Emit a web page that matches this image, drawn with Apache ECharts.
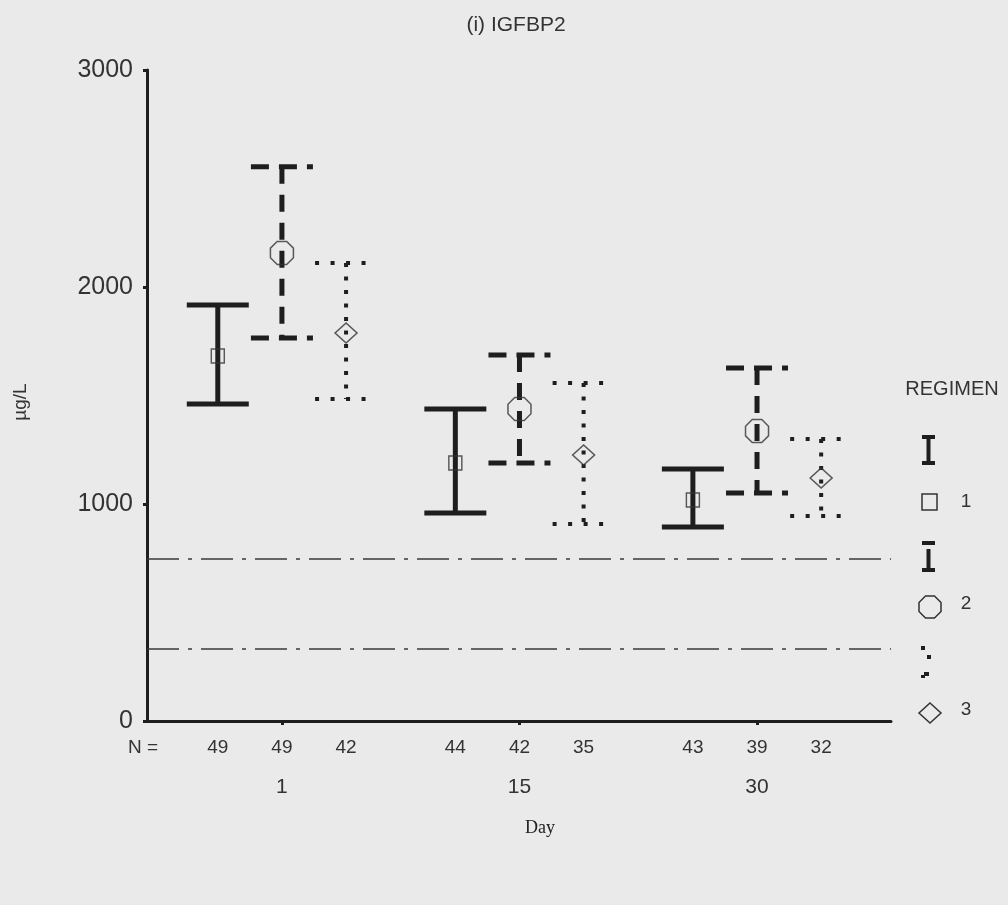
<!DOCTYPE html>
<html>
<head>
<meta charset="utf-8">
<script src="https://cdn.jsdelivr.net/npm/echarts@6/dist/echarts.min.js"></script>
<style>
  html, body { margin: 0; padding: 0; background: #eaeaea; }
  #chart { width: 1008px; height: 905px; }
</style>
</head>
<body>
<div id="chart"></div>
<script>
// IGFBP2 by day and regimen: mean with error bars (µg/L)
const days = ['1', '15', '30'];
const regimens = ['1', '2', '3'];

const nReg1 = [49, 44, 43];
const nReg2 = [49, 42, 39];
const nReg3 = [42, 35, 32];

const meanReg1 = [1682, 1189, 1018];
const lowReg1  = [1461,  958,  894];
const highReg1 = [1917, 1438, 1161];

const meanReg2 = [2157, 1438, 1336];
const lowReg2  = [1765, 1189, 1051];
const highReg2 = [2554, 1687, 1627];

const meanReg3 = [1788, 1226, 1120];
const lowReg3  = [1484,  908,  945];
const highReg3 = [2111, 1558, 1299];

const refLines = [746, 332];
const yTicks = [0, 1000, 2000, 3000];

// horizontal placement of each regimen within a day group
const groupOffset = [-0.27, 0, 0.27];
const INK = '#1e1e1e';

const regs = [
  { mean: meanReg1, low: lowReg1, high: highReg1, n: nReg1 },
  { mean: meanReg2, low: lowReg2, high: highReg2, n: nReg2 },
  { mean: meanReg3, low: lowReg3, high: highReg3, n: nReg3 }
];

// bar styles: solid, dashed, dotted
const barStyles = [
  { w: 5, capW: 5, dash: null, capDash: null },
  { w: 5, capW: 5, dash: [17, 11], capDash: [18, 10] },
  { w: 4, capW: 4, dash: [4, 9.5], capDash: [4, 11.5] }
];

const octagon = 'path://M-0.414,-1 L0.414,-1 L1,-0.414 L1,0.414 L0.414,1 L-0.414,1 L-1,0.414 L-1,-0.414 Z';
const symbols = [
  { symbol: 'rect', size: [13, 14] },
  { symbol: octagon, size: [23, 23] },
  { symbol: 'diamond', size: [22, 20] }
];

function errorBarRenderer(st) {
  return function (params, api) {
    const x = api.value(0);
    const top = api.coord([x, api.value(2)]);
    const bot = api.coord([x, api.value(1)]);
    const hw = 31;
    const base = { stroke: INK, fill: null, lineCap: 'butt' };
    return {
      type: 'group',
      children: [
        { type: 'line', shape: { x1: top[0] - hw, y1: top[1], x2: top[0] + hw, y2: top[1] },
          style: Object.assign({}, base, { lineWidth: st.capW, lineDash: st.capDash }) },
        { type: 'line', shape: { x1: top[0], y1: top[1], x2: bot[0], y2: bot[1] },
          style: Object.assign({}, base, { lineWidth: st.w, lineDash: st.dash }) },
        { type: 'line', shape: { x1: bot[0] - hw, y1: bot[1], x2: bot[0] + hw, y2: bot[1] },
          style: Object.assign({}, base, { lineWidth: st.capW, lineDash: st.capDash }) }
      ]
    };
  };
}

const series = [];
regs.forEach((r, k) => {
  series.push({
    type: 'custom',
    name: 'Regimen ' + regimens[k],
    renderItem: errorBarRenderer(barStyles[k]),
    data: days.map((d, i) => [i + groupOffset[k], r.low[i], r.high[i]]),
    encode: { x: 0, y: [1, 2] },
    z: 2,
    silent: true
  });
  series.push({
    type: 'scatter',
    symbol: symbols[k].symbol,
    symbolSize: symbols[k].size,
    data: days.map((d, i) => [i + groupOffset[k], r.mean[i]]),
    itemStyle: { color: 'transparent', borderColor: '#333', borderWidth: 1.5 },
    z: 3,
    silent: true
  });
});

// reference limits
series.push({
  type: 'line',
  data: [],
  markLine: {
    silent: true,
    symbol: ['none', 'none'],
    label: { show: false },
    lineStyle: { color: '#3a3a3a', width: 1.5, type: [32, 9, 4, 9] },
    data: refLines.map(v => ({ yAxis: v }))
  }
});

// positions of the individual N labels
const nPositions = [];
const nLabels = [];
days.forEach((d, i) => {
  regs.forEach((r, k) => {
    nPositions.push(i + groupOffset[k]);
    nLabels.push(String(r.n[i]));
  });
});

const X_MIN = -0.568, X_MAX = 2.564;
const sans = 'Liberation Sans, Arial, sans-serif';

const option = {
  backgroundColor: '#eaeaea',
  animation: false,
  grid: { left: 147, right: 117, top: 70, bottom: 184 },
  xAxis: [
    {
      type: 'value', min: X_MIN, max: X_MAX, position: 'bottom',
      splitLine: { show: false },
      axisLine: { show: true, onZero: false, lineStyle: { color: INK, width: 3 } },
      axisTick: { show: true, customValues: [0, 1, 2], length: 4, lineStyle: { color: INK, width: 3 } },
      axisLabel: {
        customValues: [0, 1, 2],
        formatter: (v) => days[Math.round(v)],
        margin: 56, fontSize: 21, color: '#333', fontFamily: sans
      }
    },
    {
      type: 'value', min: X_MIN, max: X_MAX, position: 'bottom', offset: 0,
      splitLine: { show: false },
      axisLine: { show: false, onZero: false },
      axisTick: { show: false },
      axisLabel: {
        customValues: nPositions,
        formatter: (v) => {
          let best = 0;
          nPositions.forEach((p, j) => { if (Math.abs(p - v) < Math.abs(nPositions[best] - v)) best = j; });
          return nLabels[best];
        },
        margin: 17, fontSize: 19, color: '#333', fontFamily: sans
      }
    }
  ],
  yAxis: {
    type: 'value', min: yTicks[0], max: yTicks[yTicks.length - 1], interval: 1000,
    splitLine: { show: false },
    axisLine: { show: true, onZero: false, lineStyle: { color: INK, width: 3 } },
    axisTick: { show: true, length: 4, lineStyle: { color: INK, width: 3 } },
    axisLabel: { fontSize: 25, color: '#333', margin: 14, fontFamily: sans, formatter: (v) => String(v) }
  },
  graphic: [
    { type: 'text', style: { text: '(i) IGFBP2', x: 516, y: 25, textAlign: 'center', textVerticalAlign: 'middle', font: '21px ' + sans, fill: '#333' } },
    { type: 'text', style: { text: 'µg/L', x: 0, y: 0, textAlign: 'center', textVerticalAlign: 'middle', font: '19px ' + sans, fill: '#333' }, x: 21, y: 402, rotation: Math.PI / 2 },
    { type: 'text', style: { text: 'Day', x: 540, y: 828, textAlign: 'center', textVerticalAlign: 'middle', font: '18px "Liberation Serif", "DejaVu Serif", serif', fill: '#222' } },
    { type: 'text', style: { text: 'N =', x: 143, y: 748, textAlign: 'center', textVerticalAlign: 'middle', font: '19px ' + sans, fill: '#333' } },

    // legend
    { type: 'text', style: { text: 'REGIMEN', x: 952, y: 389, textAlign: 'center', textVerticalAlign: 'middle', font: '20px ' + sans, fill: '#333' } },
    // regimen 1 glyph
    { type: 'line', shape: { x1: 922, y1: 437, x2: 935, y2: 437 }, style: { stroke: INK, lineWidth: 4 } },
    { type: 'line', shape: { x1: 928.5, y1: 437, x2: 928.5, y2: 463 }, style: { stroke: INK, lineWidth: 4 } },
    { type: 'line', shape: { x1: 922, y1: 463, x2: 935, y2: 463 }, style: { stroke: INK, lineWidth: 4 } },
    { type: 'rect', shape: { x: 922, y: 494, width: 15, height: 16 }, style: { stroke: '#333', fill: null, lineWidth: 1.5 } },
    { type: 'text', style: { text: '1', x: 966, y: 502, textAlign: 'center', textVerticalAlign: 'middle', font: '19px ' + sans, fill: '#333' } },
    // regimen 2 glyph
    { type: 'line', shape: { x1: 922, y1: 543, x2: 935, y2: 543 }, style: { stroke: INK, lineWidth: 4 } },
    { type: 'line', shape: { x1: 928.5, y1: 549, x2: 928.5, y2: 570 }, style: { stroke: INK, lineWidth: 4 } },
    { type: 'line', shape: { x1: 922, y1: 570, x2: 935, y2: 570 }, style: { stroke: INK, lineWidth: 4 } },
    { type: 'polygon', shape: { points: [[925.5, 596], [934.5, 596], [941, 602.5], [941, 611.5], [934.5, 618], [925.5, 618], [919, 611.5], [919, 602.5]] }, style: { stroke: '#333', fill: null, lineWidth: 1.5 } },
    { type: 'text', style: { text: '2', x: 966, y: 604, textAlign: 'center', textVerticalAlign: 'middle', font: '19px ' + sans, fill: '#333' } },
    // regimen 3 glyph
    { type: 'rect', shape: { x: 921, y: 646, width: 4, height: 4 }, style: { fill: INK } },
    { type: 'rect', shape: { x: 927, y: 655, width: 4, height: 4 }, style: { fill: INK } },
    { type: 'rect', shape: { x: 924, y: 672, width: 5, height: 4 }, style: { fill: INK } },
    { type: 'rect', shape: { x: 921, y: 675, width: 4, height: 3 }, style: { fill: INK } },
    { type: 'polygon', shape: { points: [[930, 703], [941, 713], [930, 723], [919, 713]] }, style: { stroke: '#333', fill: null, lineWidth: 1.5 } },
    { type: 'text', style: { text: '3', x: 966, y: 710, textAlign: 'center', textVerticalAlign: 'middle', font: '19px ' + sans, fill: '#333' } }
  ],
  series: series
};

const chart = echarts.init(document.getElementById('chart'), null, { renderer: 'canvas' });
chart.setOption(option);
</script>
</body>
</html>
